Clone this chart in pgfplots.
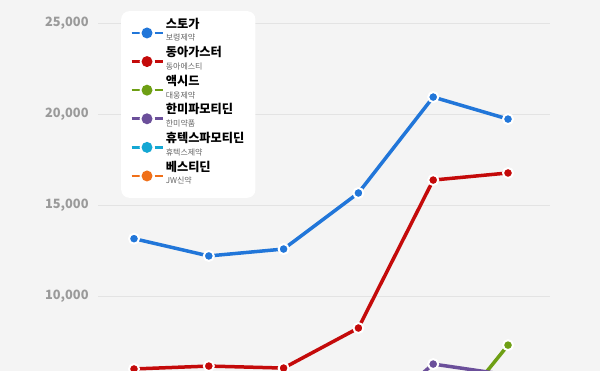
\documentclass[border=0pt]{standalone}
\usepackage{fontspec}
\setmainfont{Noto Sans CJK KR}
\usepackage{pgfplots}
\pgfplotsset{compat=1.18}
\definecolor{bgc}{HTML}{F4F4F4}
\definecolor{gridc}{HTML}{E3E3E3}
\definecolor{tickc}{HTML}{9A9A9A}
\definecolor{subc}{HTML}{666666}
\definecolor{cblue}{HTML}{2176D9}
\definecolor{cred}{HTML}{C40A0A}
\definecolor{cgreen}{HTML}{6E9F14}
\definecolor{cpurple}{HTML}{6B4F9A}
\definecolor{cteal}{HTML}{14A7D3}
\definecolor{corange}{HTML}{F07019}
\newcommand{\entry}[2]{\raisebox{13.55pt}[27.1pt][0pt]{$\vcenter{\hbox{\bfseries\fontsize{12.2}{13}\selectfont #1}\vskip0.8pt\hbox{\fontsize{8}{9}\selectfont\color{subc}#2}}$}}
\begin{document}
\begin{tikzpicture}[x=1pt,y=1pt]
\fill[bgc] (0,0) rectangle (600,371);
\useasboundingbox (0,0) rectangle (600,371);
\begin{axis}[
  at={(98.1pt,0pt)}, anchor=south west,
  scale only axis, width=451.8pt, height=371pt,
  xmin=-0.48, xmax=5.56, ymin=5879, ymax=26264,
  axis lines=left,
  axis line style={draw=none},
  tick style={draw=none},
  ytick={10000,15000,20000,25000},
  scaled y ticks=false,
  ymajorgrids, grid style={gridc, line width=0.8pt},
  xtick=\empty,
  major tick length=0pt,
  yticklabel style={font=\bfseries\fontsize{12.8}{15}\selectfont, text=tickc, xshift=-6pt},
  /pgf/number format/.cd, fixed, 1000 sep={,}, assume math mode=true,
  /pgfplots/.cd,
  every axis plot/.append style={line width=3.5pt, mark=*, mark size=5pt,
     mark options={draw=white, line width=2pt, solid}},
  legend image code/.code={
     \draw[line width=2.6pt] (0pt,0pt) -- (8pt,0pt);
     \draw[line width=2.6pt] (23pt,0pt) -- (31pt,0pt);
     \fill[white] (15.5pt,0pt) circle (5.6pt);
     \fill (15.5pt,0pt) circle (3.6pt);
  },
  legend cell align=left,
  legend style={at={(axis description cs:0.0507,0.9704)}, anchor=north west,
     fill=white, draw=none, rounded corners=8pt,
     inner xsep=9pt, inner ysep=7.5pt,
     row sep=0pt,
     nodes={inner ysep=0pt}},
]
\addplot[cblue] coordinates {(0,13150) (1,12200) (2,12580) (3,15660) (4,20930) (5,19720)};
\addlegendentry{\entry{스토가}{보령제약}}
\addplot[cred] coordinates {(0,5990) (1,6150) (2,6040) (3,8240) (4,16370) (5,16760)};
\addlegendentry{\entry{동아가스터}{동아에스티}}
\addplot[cgreen] coordinates {(4,2200) (5,7300)};
\addlegendentry{\entry{액시드}{대웅제약}}
\addplot[cpurple] coordinates {(3,2700) (4,6260) (5,5660)};
\addlegendentry{\entry{한미파모티딘}{한미약품}}
\addplot[cteal] coordinates {(3,2500) (4,3500) (5,4200)};
\addlegendentry{\entry{휴텍스파모티딘}{휴텍스제약}}
\addplot[corange] coordinates {(4,1000) (5,1500)};
\addlegendentry{\entry{베스티딘}{JW신약}}
\end{axis}
\end{tikzpicture}
\end{document}
